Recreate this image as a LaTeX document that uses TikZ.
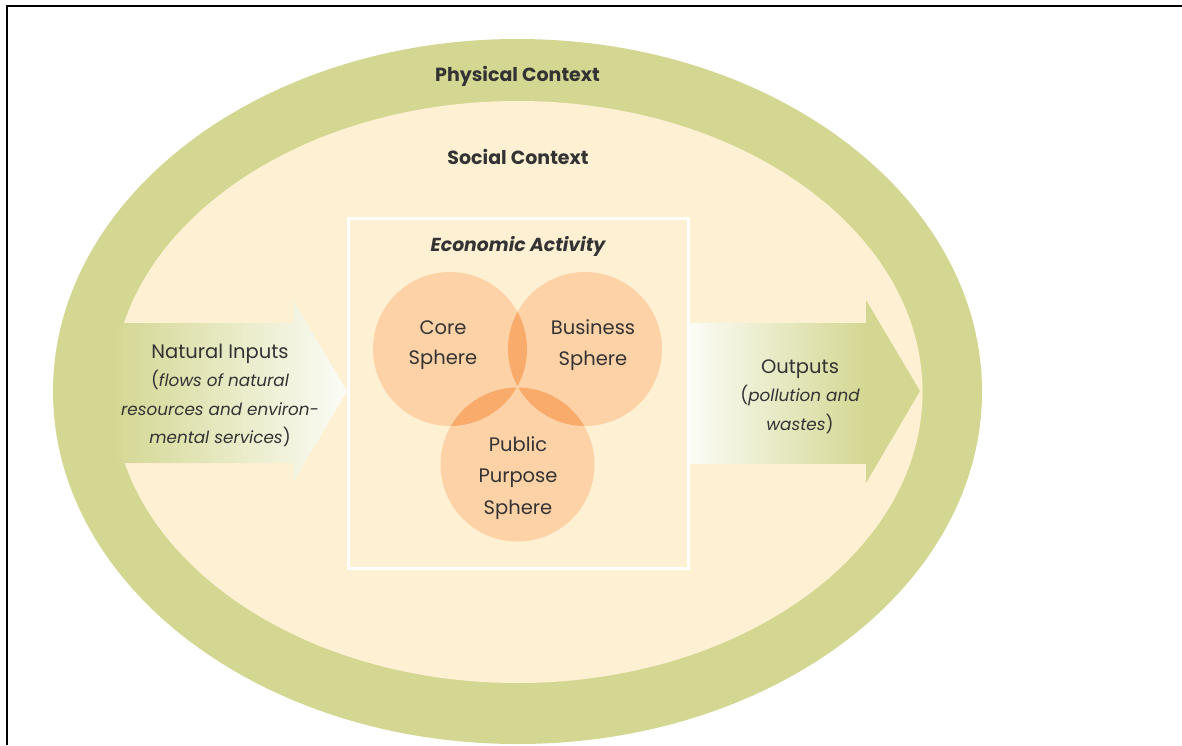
\documentclass[tikz,border=0pt]{standalone}
\usepackage{fontspec}
\setmainfont{Poppins}
\usetikzlibrary{shapes.geometric}
\definecolor{ring}{HTML}{D4D792}
\definecolor{cream}{HTML}{FEF0D3}
\definecolor{sphere}{HTML}{FDD2A7}
\definecolor{lens}{HTML}{F9AB6B}
\definecolor{ink}{HTML}{333333}
\definecolor{pale}{HTML}{FBFCF6}
\newcommand{\itx}[1]{{\fontsize{16.8}{28.5}\selectfont\itshape #1}}
\newcommand{\smx}[1]{{\fontsize{17.5}{28.5}\selectfont #1}}
\begin{document}
\begin{tikzpicture}[x=1pt,y=-1pt,
  spherecirc/.style={circle, fill=sphere, minimum size=154pt, inner sep=0pt},
  lensfill/.style={fill=lens},
  txt/.style={text=ink, align=center, inner sep=0pt, font=\fontsize{19.5}{30.5}\selectfont},
  ttl/.style={text=ink, inner sep=0pt, anchor=base, font=\fontsize{19}{22}\selectfont\bfseries}]
\useasboundingbox (0,0) rectangle (1182,745);
\fill[white] (0,0) rectangle (1182,745);
% frame
\coordinate (fbl) at (7,745);
\coordinate (ftl) at (7,6);
\coordinate (ftr) at (1182,6);
\draw[black, line width=2pt] (fbl) -- (ftl) -- (ftr);
% contexts
\node[ellipse, fill=ring, minimum width=929pt, minimum height=705pt, inner sep=0pt] (physical) at (517.5,391.5) {};
\node[ellipse, fill=cream, minimum width=810pt, minimum height=582pt, inner sep=0pt] (social) at (517.5,392) {};
% economic box
\node[draw=white, line width=3pt, fill=cream, minimum width=340pt, minimum height=350pt, inner sep=0pt] (econ) at (518,393) {};
% input arrow
\shade[left color=ring, right color=pale] (112,323) -- (293,323) -- (293,300) -- (347,391) -- (293,483) -- (293,463) -- (112,463) -- cycle;
% output arrow
\fill[ring] (860,323) -- (866,323) -- (866,300) -- (920,391) -- (866,483) -- (866,463) -- (860,463) -- cycle;
\shade[left color=pale, right color=ring] (689.5,323) rectangle (866,463);
% spheres
\node[spherecirc] (core) at (450,349) {};
\node[spherecirc] (business) at (585,349) {};
\node[spherecirc] (public) at (517.5,464.5) {};
\begin{scope}
  \clip (core.center) circle[radius=77pt];
  \fill[lensfill] (business.center) circle[radius=77pt];
  \fill[lensfill] (public.center) circle[radius=77pt];
\end{scope}
\begin{scope}
  \clip (business.center) circle[radius=77pt];
  \fill[lensfill] (public.center) circle[radius=77pt];
\end{scope}
% texts
\node[ttl] (physlabel) at (517.5,81) {Physical Context};
\node[ttl] (soclabel) at (518,164.5) {Social Context};
\node[ttl, font=\fontsize{18.8}{22}\selectfont\bfseries\itshape] (econlabel) at (518,251) {Economic Activity};
\node[txt] (coretxt) at (443,345) {Core\\Sphere};
\node[txt] (bustxt) at (593,345) {Business\\Sphere};
\node[txt, font=\fontsize{19.5}{31.5}\selectfont] (pubtxt) at (518,478) {Public\\Purpose\\Sphere};
\node[txt, font=\fontsize{19.5}{28.5}\selectfont] (intxt) at (220,395.5) {Natural Inputs\\\smx{(}\itx{flows of natural}\\\itx{resources and environ-}\\\itx{mental services}\smx{)}};
\node[txt, font=\fontsize{19.5}{28.5}\selectfont] (outtxt) at (800,396.5) {Outputs\\\smx{(}\itx{pollution and}\\\itx{wastes}\smx{)}};
\end{tikzpicture}
\end{document}
